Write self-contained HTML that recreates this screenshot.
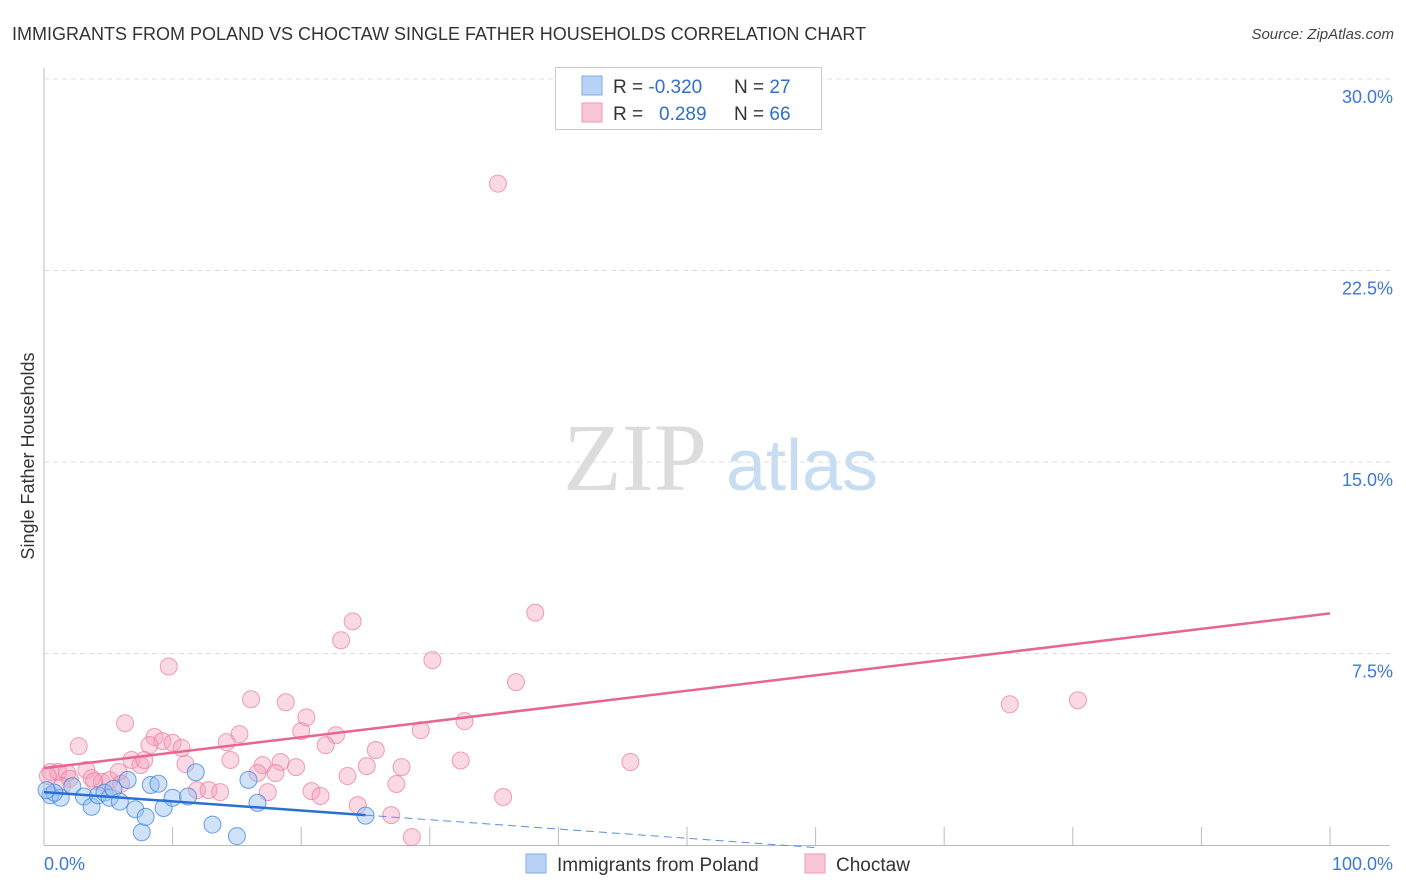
<!DOCTYPE html>
<html><head><meta charset="utf-8"><style>
body{margin:0;background:#fff;font-family:"Liberation Sans",sans-serif;}
svg{display:block}
</style></head><body>
<svg id="chart" width="1406" height="892" viewBox="0 0 1406 892">
<text x="12" y="40" font-size="18" fill="#333">IMMIGRANTS FROM POLAND VS CHOCTAW SINGLE FATHER HOUSEHOLDS CORRELATION CHART</text>
<text x="1394" y="39" font-size="15" fill="#444" font-style="italic" text-anchor="end">Source: ZipAtlas.com</text>
<text transform="translate(34,456) rotate(-90)" font-size="18" fill="#333" text-anchor="middle">Single Father Households</text>
<g>
<text x="635" y="490" font-size="96" font-family="Liberation Serif,serif" fill="#dcdcdc" text-anchor="middle">ZIP</text>
<text x="802" y="490" font-size="72" fill="#c8dcf2" text-anchor="middle">atlas</text>
</g>
<g id="grid"></g><g id="marks"></g>
<g>
<rect x="555.5" y="67.5" width="266" height="62" fill="#fff" stroke="#ccc"/>
<rect x="582" y="76" width="20" height="19" fill="#b8d3f5" stroke="#7eaee8"/>
<rect x="582" y="103" width="20" height="19" fill="#f9c6d6" stroke="#ef9ab5"/>
<text x="613" y="93" font-size="19" fill="#333">R = <tspan fill="#2f6fd0">-0.320</tspan></text>
<text x="734" y="93" font-size="19" fill="#333">N = <tspan fill="#2f6fd0">27</tspan></text>
<text x="613" y="120" font-size="19" fill="#333">R = <tspan fill="#2f6fd0" x="659">0.289</tspan></text>
<text x="734" y="120" font-size="19" fill="#333">N = <tspan fill="#2f6fd0">66</tspan></text>
</g>
<g>
<rect x="526" y="854" width="20" height="19" fill="#b8d3f5" stroke="#7eaee8"/>
<text x="557" y="871" font-size="19" fill="#333">Immigrants from Poland</text>
<rect x="805" y="854" width="20" height="19" fill="#f9c6d6" stroke="#ef9ab5"/>
<text x="836" y="871" font-size="19" fill="#333">Choctaw</text>
</g>
</svg>
<script>
const yTicks=[7.5,15,22.5,30];
const yTickLabels=["7.5%","15.0%","22.5%","30.0%"];
const xTickLabels=["0.0%","100.0%"];
const polandX=[0.5,1.3,0.8,2.2,3.1,3.7,4.2,4.7,5.1,5.4,5.9,6.5,7.1,7.6,7.9,8.3,8.9,9.3,10.0,11.2,11.8,13.1,15.0,15.9,16.6,25.0,0.2];
const polandY=[1.95,1.85,2.05,2.3,1.9,1.5,1.95,2.05,1.85,2.2,1.7,2.55,1.4,0.5,1.1,2.35,2.4,1.45,1.85,1.9,2.85,0.8,0.35,2.55,1.65,1.15,2.15];
const choctawX=[35.3,9.7,2.7,6.3,16.1,18.8,20.4,20.0,22.7,21.9,15.2,14.2,14.5,30.2,29.3,32.7,36.7,38.2,23.1,24.0,25.8,25.1,27.8,23.6,27.4,32.4,35.7,20.8,21.5,24.4,27.0,28.6,17.4,18.4,19.6,18.0,17.0,16.6,8.6,9.2,10.0,10.7,8.2,11.0,6.8,7.5,7.8,3.3,3.7,4.5,5.1,5.8,11.9,12.8,13.7,0.5,1.1,1.8,75.1,80.4,45.6,3.9,0.3,2.0,1.4,6.0];
const choctawY=[25.9,6.99,3.87,4.77,5.71,5.59,5.0,4.46,4.3,3.91,4.34,4.03,3.33,7.24,4.5,4.85,6.38,9.1,8.02,8.76,3.72,3.09,3.05,2.7,2.39,3.31,1.88,2.11,1.92,1.56,1.17,0.31,2.07,3.25,3.05,2.82,3.13,2.82,4.23,4.07,4.0,3.8,3.91,3.17,3.33,3.13,3.33,2.94,2.62,2.47,2.54,2.86,2.15,2.15,2.07,2.86,2.86,2.82,5.51,5.67,3.25,2.5,2.7,2.6,2.3,2.4];
const polandTrend=[[0,2.07],[25,1.17]];
const polandTrendDash=[[25,1.17],[60,-0.1]];
const choctawTrend=[[0,3.01],[100,9.07]];

const X0=44,X1=1330,Y0=845,Y30=79;
const sx=v=>X0+(X1-X0)*v/100;
const sy=v=>Y0-(Y0-Y30)*v/30;
const NS="http://www.w3.org/2000/svg";
const grid=document.getElementById('grid'),marks=document.getElementById('marks');
function mk(tag,attrs,parent){const e=document.createElementNS(NS,tag);for(const k in attrs)e.setAttribute(k,attrs[k]);parent.appendChild(e);return e;}
const yax=mk('line',{x1:X0,y1:68,x2:X0,y2:Y0,stroke:'#bbb','stroke-width':1},grid);


const xax=mk('line',{x1:X0,y1:Y0+0.5,x2:X1+60,y2:Y0+0.5,stroke:'#bbb','stroke-width':1},grid);


yTicks.forEach((t,i)=>{
 const g=mk('line',{x1:X0,y1:sy(t),x2:1394,y2:sy(t),stroke:'#ddd','stroke-dasharray':'5,4'},grid);
 
 
 const tx=mk('text',{x:1393,y:sy(t)+24,'font-size':18,fill:'#3b78d8','text-anchor':'end'},grid);
 tx.textContent=yTickLabels[i];
 
 
});
for(let i=1;i<=10;i++){
 const t=mk('line',{x1:sx(i*10),y1:Y0-18,x2:sx(i*10),y2:Y0,stroke:'#bbb'},grid);
 
 
}
[[0,'start',X0],[1,'end',1393]].forEach(([i,a,x])=>{
 const tx=mk('text',{x:x,y:870,'font-size':18,fill:'#3b78d8','text-anchor':a},grid);
 tx.textContent=xTickLabels[i];
 
 
});
choctawX.forEach((v,i)=>{
 const c=mk('circle',{cx:sx(v),cy:sy(choctawY[i]),r:8.5,fill:'rgba(245,160,188,0.4)',stroke:'rgba(232,120,155,0.7)','stroke-width':1},marks);
 
 
});
polandX.forEach((v,i)=>{
 const c=mk('circle',{cx:sx(v),cy:sy(polandY[i]),r:8.5,fill:'rgba(150,190,240,0.45)',stroke:'rgba(60,130,220,0.75)','stroke-width':1},marks);
 
 
});
const pt=mk('line',{x1:sx(choctawTrend[0][0]),y1:sy(choctawTrend[0][1]),x2:sx(choctawTrend[1][0]),y2:sy(choctawTrend[1][1]),stroke:'#e8658f','stroke-width':2.5},marks);


const bt=mk('line',{x1:sx(polandTrend[0][0]),y1:sy(polandTrend[0][1]),x2:sx(polandTrend[1][0]),y2:sy(polandTrend[1][1]),stroke:'#2a6fd6','stroke-width':2.5},marks);


const bd=mk('line',{x1:sx(polandTrendDash[0][0]),y1:sy(polandTrendDash[0][1]),x2:sx(polandTrendDash[1][0]),y2:sy(polandTrendDash[1][1]),stroke:'#5b8fd8','stroke-width':1,'stroke-dasharray':'8,5'},marks);


</script>
</body></html>
